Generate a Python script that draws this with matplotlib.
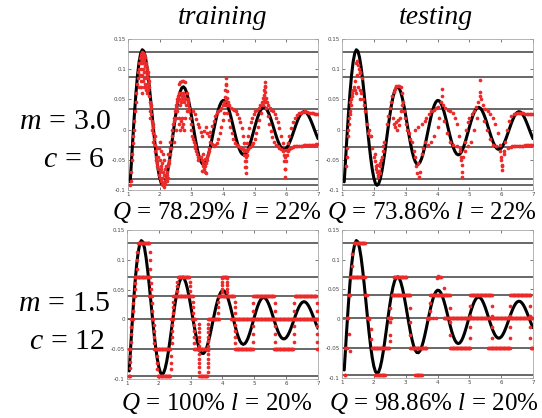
import numpy as np
import matplotlib
matplotlib.use("Agg")
import matplotlib.pyplot as plt

plt.rcParams['mathtext.fontset'] = 'custom'
plt.rcParams['mathtext.rm'] = 'Liberation Serif'
plt.rcParams['mathtext.it'] = 'Liberation Serif:italic'
plt.rcParams['mathtext.bf'] = 'Liberation Serif:bold'

# ---------------------------------------------------------------- text
col_titles = ['training', 'testing']
row_m = [r'$m\,=\,3.0$', r'$m\,=\,1.5$']
row_c = [r'$c\,=\,\mathit{6}$', r'$c\,=\,\mathit{12}$']
q_labels = [[r'$Q\,=\,78.29\%\ l\,=\,22\%$', r'$Q\,=\,73.86\%\ l\,=\,22\%$'],
            [r'$Q\,=\,100\%\ l\,=\,20\%$', r'$Q\,=\,98.86\%\ l\,=\,20\%$']]

x_ticks = [1, 2, 3, 4, 5, 6, 7]
x_tick_labels = ['1', '2', '3', '4', '5', '6', '7']
y_ticks = [-0.1, -0.05, 0, 0.05, 0.1, 0.15]
y_tick_labels = ['-0.1', '-0.05', '0', '0.05', '0.1', '0.15']

# ---------------------------------------------------------------- reference signal
signal_x0 = 1.07
signal_y0 = -0.0865
signal_dx = 0.05          # samples from x = 1.10 on
signal_start = 1.10
signal_y = [
    -0.0602, -0.0168, 0.0240, 0.0602, 0.0900, 0.1123, 0.1264, 0.1322, 0.1298, 0.1198,
    0.1035, 0.0820, 0.0569, 0.0300, 0.0027, -0.0233, -0.0465, -0.0657, -0.0801, -0.0891,
    -0.0923, -0.0899, -0.0822, -0.0700, -0.0541, -0.0357, -0.0160, 0.0039, 0.0228, 0.0396,
    0.0534, 0.0634, 0.0693, 0.0709, 0.0681, 0.0614, 0.0512, 0.0383, 0.0236, 0.0079,
    -0.0078, -0.0225, -0.0353, -0.0457, -0.0530, -0.0569, -0.0573, -0.0542, -0.0480, -0.0391,
    -0.0280, -0.0156, -0.0026, 0.0102, 0.0221, 0.0324, 0.0404, 0.0458, 0.0483, 0.0478,
    0.0445, 0.0386, 0.0305, 0.0208, 0.0100, -0.0011, -0.0119, -0.0218, -0.0301, -0.0364,
    -0.0404, -0.0419, -0.0408, -0.0373, -0.0316, -0.0241, -0.0153, -0.0058, 0.0039, 0.0131,
    0.0214, 0.0282, 0.0332, 0.0361, 0.0368, 0.0352, 0.0316, 0.0260, 0.0191, 0.0111,
    0.0026, -0.0060, -0.0140, -0.0210, -0.0267, -0.0306, -0.0326, -0.0326, -0.0307, -0.0269,
    -0.0216, -0.0150, -0.0077, 0.0000, 0.0076, 0.0146, 0.0206, 0.0253, 0.0284, 0.0297,
    0.0292, 0.0269, 0.0231, 0.0179, 0.0117, 0.0049, -0.0021, -0.0089, -0.0150,
]

# ---------------------------------------------------------------- quantisation levels
levels_m30 = [0.129, 0.087, 0.034, -0.029, -0.081, -0.092]
levels_m15 = [0.128, 0.071, 0.040, 0.001, -0.050, -0.095]

# ---------------------------------------------------------------- m = 3.0 predictions
train_m30_cloud = [
    (1.07, -0.092), (1.08, -0.085), (1.10, -0.070), (1.12, -0.050), (1.13, -0.040), (1.15, -0.022),
    (1.16, -0.010), (1.18, 0.000), (1.20, 0.015), (1.22, 0.030), (1.24, 0.045), (1.26, 0.060),
    (1.28, 0.075), (1.30, 0.085), (1.32, 0.095), (1.34, 0.100), (1.36, 0.110), (1.38, 0.118),
    (1.40, 0.122), (1.42, 0.125), (1.45, 0.128), (1.48, 0.127), (1.50, 0.125), (1.52, 0.122),
    (1.55, 0.120), (1.58, 0.110),
    (1.38, 0.090), (1.40, 0.100), (1.42, 0.110), (1.44, 0.090), (1.45, 0.115), (1.46, 0.100),
    (1.47, 0.080), (1.48, 0.110), (1.50, 0.095), (1.50, 0.070), (1.52, 0.085), (1.53, 0.105),
    (1.54, 0.075), (1.55, 0.095), (1.56, 0.065), (1.57, 0.085), (1.58, 0.070), (1.60, 0.090),
    (1.62, 0.075), (1.60, 0.060), (1.64, 0.065), (1.42, 0.070), (1.44, 0.060), (1.36, 0.070),
    (1.40, 0.080), (1.46, 0.120), (1.52, 0.115), (1.56, 0.105), (1.62, 0.095), (1.66, 0.080),
    (1.60, 0.100), (1.62, 0.085), (1.65, 0.070), (1.67, 0.055), (1.70, 0.045), (1.72, 0.035),
    (1.74, 0.025), (1.76, 0.015), (1.78, 0.005), (1.80, -0.005), (1.82, -0.015), (1.84, -0.025),
    (1.86, -0.035), (1.88, -0.045), (1.90, -0.055), (1.68, 0.030), (1.70, 0.020), (1.73, 0.040),
    (1.75, 0.000), (1.78, -0.020), (1.80, 0.010), (1.85, -0.010), (1.87, -0.050), (1.90, -0.030),
    (1.92, -0.060), (1.94, -0.045),
    (1.95, -0.065), (1.97, -0.075), (2.00, -0.080), (2.02, -0.070), (2.04, -0.085), (2.06, -0.090),
    (2.08, -0.080), (2.10, -0.092), (2.12, -0.088), (2.14, -0.095), (2.16, -0.090), (2.18, -0.085),
    (2.20, -0.080), (2.22, -0.075), (2.24, -0.070), (2.26, -0.060), (2.28, -0.050), (2.30, -0.040),
    (2.32, -0.030), (2.34, -0.020), (2.00, -0.050), (2.03, -0.060), (2.05, -0.065), (2.08, -0.055),
    (2.12, -0.070), (2.15, -0.075), (2.18, -0.065), (2.20, -0.060), (2.22, -0.085), (2.25, -0.080),
    (2.10, -0.040), (2.05, -0.035), (1.98, -0.030), (2.02, -0.020), (2.15, -0.050), (2.26, -0.040),
    (2.30, -0.055), (2.34, -0.040), (2.37, -0.030),
    (2.38, -0.010), (2.40, 0.000), (2.42, 0.010), (2.44, 0.015), (2.46, 0.020), (2.48, 0.030),
    (2.50, 0.035), (2.52, 0.040), (2.54, 0.045), (2.56, 0.050), (2.58, 0.055), (2.60, 0.060),
    (2.45, -0.020), (2.50, 0.000), (2.52, 0.020), (2.55, 0.030),
    (2.60, 0.075), (2.65, 0.078), (2.70, 0.080), (2.75, 0.080), (2.80, 0.078), (2.62, 0.050),
    (2.64, 0.040), (2.66, 0.060), (2.68, 0.045), (2.70, 0.055), (2.72, 0.050), (2.74, 0.060),
    (2.76, 0.045), (2.78, 0.055), (2.80, 0.050), (2.82, 0.040), (2.84, 0.050), (2.60, 0.020),
    (2.62, 0.010), (2.65, 0.000), (2.68, 0.015), (2.70, 0.005), (2.72, 0.020), (2.75, 0.010),
    (2.78, 0.000), (2.80, 0.020), (2.85, 0.030), (2.90, 0.040),
    (2.86, 0.060), (2.88, 0.050), (2.90, 0.045), (2.92, 0.035), (2.94, 0.030), (2.96, 0.020),
    (2.98, 0.010), (3.00, 0.000), (3.02, -0.010), (3.05, -0.015), (3.08, -0.020), (3.10, -0.025),
    (3.12, -0.030), (3.15, -0.035), (3.18, -0.040), (3.20, -0.045), (3.22, -0.050),
    (3.30, -0.045), (3.33, -0.050), (3.36, -0.055), (3.38, -0.060), (3.40, -0.065), (3.42, -0.070),
    (3.44, -0.060), (3.46, -0.055), (3.48, -0.050), (3.50, -0.045), (3.35, -0.068), (3.45, -0.072),
    (3.52, -0.040), (3.55, -0.035), (3.38, -0.040), (3.42, -0.048), (3.05, 0.030), (3.10, 0.025),
    (3.15, 0.018), (3.20, 0.010),
]
train_m30_upper = [
    (3.25, 0.005), (3.30, -0.004), (3.35, -0.010), (3.40, -0.002), (3.45, 0.004), (3.50, -0.006),
    (3.55, -0.010), (3.60, -0.004), (3.65, 0.006), (3.70, 0.015), (3.75, 0.022), (3.80, 0.027),
    (3.85, 0.030), (3.90, 0.033), (3.95, 0.036), (4.00, 0.040), (4.03, 0.046), (4.05, 0.054),
    (4.07, 0.066), (4.08, 0.076), (4.09, 0.085), (4.10, 0.074), (4.11, 0.064), (4.13, 0.053),
    (4.16, 0.045), (4.20, 0.040), (4.25, 0.036), (4.30, 0.034), (4.35, 0.032), (4.40, 0.030),
    (4.45, 0.026), (4.50, 0.020), (4.55, 0.012), (4.60, 0.002), (4.64, -0.010), (4.67, -0.022),
    (4.69, -0.034), (4.71, -0.045), (4.73, -0.034), (4.75, -0.022), (4.78, -0.010), (4.82, 0.002),
    (4.87, 0.012), (4.92, 0.020), (4.97, 0.026), (5.02, 0.030), (5.07, 0.033), (5.12, 0.036),
    (5.17, 0.040), (5.22, 0.045), (5.26, 0.052), (5.28, 0.058), (5.30, 0.066), (5.31, 0.072),
    (5.32, 0.079), (5.33, 0.070), (5.34, 0.062), (5.36, 0.053), (5.39, 0.046), (5.43, 0.040),
    (5.48, 0.036), (5.53, 0.033), (5.58, 0.030), (5.63, 0.026), (5.68, 0.020), (5.73, 0.012),
    (5.78, 0.002), (5.83, -0.010), (5.88, -0.022), (5.92, -0.034), (5.96, -0.046), (6.00, -0.034),
    (6.04, -0.022), (6.09, -0.010), (6.14, 0.002), (6.20, 0.012), (6.26, 0.019), (6.32, 0.024),
    (6.40, 0.027), (6.45, 0.028), (6.50, 0.029), (6.55, 0.029), (6.60, 0.030), (6.65, 0.029),
    (6.70, 0.028), (6.75, 0.028), (6.80, 0.027), (6.85, 0.027), (6.90, 0.026), (6.95, 0.026),
    (7.00, 0.026),
]
train_m30_lower = [
    (3.55, -0.030), (3.60, -0.020), (3.65, -0.024), (3.70, -0.027), (3.75, -0.026), (3.80, -0.022),
    (3.85, -0.015), (3.90, -0.006), (3.95, 0.004), (4.00, 0.016), (4.04, 0.028), (4.07, 0.040),
    (4.09, 0.048), (4.11, 0.040), (4.14, 0.028), (4.18, 0.016), (4.23, 0.004), (4.28, -0.006),
    (4.33, -0.015), (4.38, -0.022), (4.43, -0.026), (4.48, -0.028), (4.53, -0.029), (4.58, -0.030),
    (4.62, -0.032), (4.65, -0.036), (4.67, -0.042), (4.69, -0.052), (4.70, -0.062), (4.71, -0.072),
    (4.72, -0.062), (4.73, -0.052), (4.75, -0.042), (4.77, -0.036), (4.80, -0.032), (4.85, -0.029),
    (4.90, -0.026), (4.95, -0.022), (5.00, -0.015), (5.05, -0.006), (5.10, 0.004), (5.15, 0.016),
    (5.20, 0.028), (5.25, 0.040), (5.30, 0.048), (5.32, 0.050), (5.34, 0.045), (5.37, 0.035),
    (5.41, 0.022), (5.46, 0.010), (5.51, -0.002), (5.56, -0.012), (5.61, -0.020), (5.66, -0.025),
    (5.72, -0.028), (5.78, -0.030), (5.84, -0.032), (5.88, -0.036), (5.91, -0.042), (5.93, -0.052),
    (5.95, -0.066), (5.96, -0.078), (5.97, -0.066), (5.99, -0.052), (6.01, -0.042), (6.04, -0.036),
    (6.08, -0.032), (6.14, -0.030), (6.20, -0.029), (6.25, -0.028), (6.30, -0.028), (6.35, -0.027),
    (6.40, -0.027), (6.45, -0.027), (6.50, -0.027), (6.55, -0.026), (6.60, -0.026), (6.65, -0.026),
    (6.70, -0.026), (6.75, -0.025), (6.80, -0.025), (6.85, -0.025), (6.90, -0.025), (6.95, -0.024),
    (7.00, -0.024),
]

test_m30_cloud = [
    (1.12, -0.060), (1.15, -0.045), (1.17, -0.030), (1.19, -0.010), (1.20, 0.000), (1.22, 0.010),
    (1.23, 0.020), (1.25, 0.030), (1.27, 0.040), (1.28, 0.050), (1.30, 0.055), (1.32, 0.060),
    (1.33, 0.065), (1.24, 0.045), (1.26, 0.025),
    (1.45, 0.110), (1.48, 0.113), (1.50, 0.107), (1.52, 0.100), (1.55, 0.093), (1.47, 0.090),
    (1.50, 0.070), (1.55, 0.066), (1.44, 0.060), (1.42, 0.065), (1.60, 0.060), (1.57, 0.050),
    (1.40, 0.080), (1.37, 0.070), (1.62, 0.085), (1.58, 0.095),
    (1.65, 0.050), (1.68, 0.040), (1.72, 0.030), (1.78, 0.010), (1.82, -0.005), (1.87, -0.010),
    (1.90, -0.010), (1.85, 0.000),
    (1.95, -0.030), (2.00, -0.045), (2.03, -0.052), (2.06, -0.060), (2.08, -0.065), (2.10, -0.070),
    (2.12, -0.075), (2.15, -0.068), (2.18, -0.060), (2.20, -0.055), (2.22, -0.050), (2.25, -0.045),
    (2.28, -0.035), (2.30, -0.028), (2.33, -0.020), (2.10, -0.058), (2.14, -0.078), (2.18, -0.072),
    (2.05, -0.040),
    (2.40, 0.010), (2.45, 0.022), (2.50, 0.035), (2.55, 0.045), (2.58, 0.055), (2.62, 0.062),
    (2.65, 0.068), (2.70, 0.072), (2.75, 0.073), (2.80, 0.072), (2.85, 0.070), (2.90, 0.060),
    (2.60, 0.020), (2.62, 0.010), (2.65, 0.005), (2.70, 0.012), (2.72, 0.000), (2.75, 0.016),
    (2.78, 0.008), (2.82, 0.020), (2.85, 0.030), (2.88, 0.040), (2.92, 0.045), (2.95, 0.030),
    (2.98, 0.020), (3.00, 0.010), (3.05, 0.000), (3.10, -0.005), (3.15, -0.015), (3.20, -0.020),
    (3.25, -0.035), (3.30, -0.045), (3.35, -0.072), (3.42, -0.078), (3.45, -0.070), (3.40, -0.055),
    (3.50, -0.040), (3.32, -0.060), (3.55, -0.030),
]
test_m30_upper = [
    (3.30, 0.000), (3.40, 0.005), (3.50, 0.010), (3.60, 0.015), (3.65, 0.020), (3.72, 0.025),
    (3.80, 0.030), (3.88, 0.033), (3.95, 0.035), (4.02, 0.038), (4.10, 0.045), (4.13, 0.055),
    (4.14, 0.068), (4.18, 0.040), (4.25, 0.035), (4.32, 0.033), (4.40, 0.030), (4.48, 0.028),
    (4.55, 0.020), (4.62, 0.010), (4.68, -0.010), (4.72, -0.030), (4.75, -0.050), (4.77, -0.070),
    (4.78, -0.078), (4.80, -0.045), (4.85, -0.020), (4.90, 0.000), (4.95, 0.012), (5.00, 0.020),
    (5.08, 0.026), (5.15, 0.030), (5.22, 0.038), (5.28, 0.045), (5.32, 0.055), (5.34, 0.062),
    (5.35, 0.082), (5.37, 0.050), (5.42, 0.040), (5.50, 0.034), (5.58, 0.030), (5.66, 0.025),
    (5.74, 0.020), (5.82, 0.010), (5.90, -0.005), (5.96, -0.025), (6.00, -0.045), (6.03, -0.060),
    (6.04, -0.067), (6.08, -0.040), (6.12, -0.020), (6.18, 0.000), (6.25, 0.015), (6.32, 0.022),
    (6.40, 0.025), (6.45, 0.026), (6.50, 0.027), (6.55, 0.027), (6.60, 0.027), (6.65, 0.027),
    (6.70, 0.027), (6.75, 0.026), (6.80, 0.026), (6.85, 0.026), (6.90, 0.026), (6.95, 0.026),
    (7.00, 0.026),
]
test_m30_lower = [
    (3.60, -0.020), (3.70, -0.025), (3.80, -0.020), (3.90, -0.010), (4.00, 0.005), (4.05, 0.020),
    (4.20, 0.015), (4.30, -0.005), (4.40, -0.020), (4.50, -0.025), (4.60, -0.028), (4.70, -0.035),
    (4.74, -0.045), (4.76, -0.058), (4.85, -0.035), (4.95, -0.028), (5.05, -0.020), (5.15, 0.000),
    (5.25, 0.020), (5.45, 0.015), (5.55, 0.000), (5.65, -0.015), (5.75, -0.025), (5.85, -0.028),
    (5.95, -0.035), (6.00, -0.050), (6.02, -0.058), (6.10, -0.035), (6.20, -0.030), (6.30, -0.029),
    (6.35, -0.028), (6.40, -0.028), (6.45, -0.028), (6.50, -0.028), (6.55, -0.027), (6.60, -0.027),
    (6.65, -0.027), (6.70, -0.027), (6.75, -0.026), (6.80, -0.026), (6.85, -0.026), (6.90, -0.026),
    (6.95, -0.025), (7.00, -0.025),
]

# ---------------------------------------------------------------- m = 1.5 predictions
# runs held on one level: (x start, x end, level index)
train_m15_runs = [
    (1.05, 1.10, 5), (1.06, 1.13, 4), (1.13, 1.19, 3), (1.19, 1.25, 2), (1.24, 1.72, 1),
    (1.35, 1.70, 0), (1.70, 1.78, 2), (1.77, 1.84, 3), (1.84, 2.38, 4), (1.96, 2.36, 5),
    (2.38, 2.46, 3), (2.46, 3.08, 2), (2.60, 2.96, 1), (3.05, 3.14, 3), (3.12, 3.55, 4),
    (3.27, 3.52, 5), (3.55, 3.88, 3), (3.86, 4.38, 2), (3.99, 4.14, 1), (4.28, 4.97, 3),
    (4.40, 4.97, 4), (4.97, 5.64, 2), (4.97, 7.00, 3), (5.62, 6.24, 4), (6.27, 6.96, 2),
    (6.96, 7.00, 4),
]
# jumps between levels: (x, y from, y to, dots)
train_m15_steps = [
    (1.10, -0.093, -0.050, 3), (1.13, -0.050, 0.000, 3), (1.20, 0.000, 0.040, 2),
    (1.25, 0.040, 0.071, 2), (1.33, 0.071, 0.128, 3), (1.71, 0.128, 0.071, 3),
    (1.74, 0.071, 0.040, 2), (1.80, 0.040, 0.000, 2), (1.84, 0.000, -0.050, 4),
    (1.95, -0.050, -0.095, 3), (2.37, -0.095, -0.050, 3), (2.40, -0.050, 0.000, 4),
    (2.46, 0.000, 0.040, 3), (2.58, 0.040, 0.071, 3), (2.97, 0.071, 0.040, 3),
    (3.08, 0.040, 0.000, 3), (3.12, 0.000, -0.050, 4), (3.25, 0.000, -0.095, 12),
    (3.53, -0.095, 0.000, 12), (3.86, 0.000, 0.040, 3), (3.98, 0.040, 0.075, 5),
    (4.15, 0.075, 0.040, 5), (4.38, 0.040, 0.000, 3), (4.40, 0.000, -0.050, 4),
    (4.97, -0.050, 0.040, 6), (5.64, 0.040, -0.050, 6), (6.25, -0.050, 0.040, 6),
    (6.96, 0.040, -0.050, 6),
]
train_m15_extra = []

test_m15_runs = [
    (1.08, 1.12, 5), (1.10, 1.16, 4), (1.15, 1.22, 3), (1.21, 1.28, 2), (1.26, 1.73, 1),
    (1.37, 1.73, 0), (1.73, 1.80, 2), (1.80, 1.87, 3), (1.94, 2.47, 4), (2.05, 2.36, 5),
    (2.45, 2.55, 3), (2.57, 3.15, 2), (2.62, 3.04, 1), (3.15, 3.67, 4), (3.30, 3.52, 5),
    (3.67, 3.78, 3), (3.78, 4.40, 2), (4.02, 4.10, 1), (4.20, 5.03, 3), (4.40, 5.03, 4),
    (5.03, 5.71, 2), (5.03, 7.00, 3), (5.60, 6.28, 4), (6.29, 6.92, 2), (6.93, 7.00, 4),
]
test_m15_steps = [
    (1.30, 0.071, 0.128, 2), (1.90, -0.050, 0.000, 2), (2.52, -0.050, 0.040, 3),
    (3.15, 0.040, -0.050, 3), (3.75, 0.000, 0.040, 2), (4.40, 0.040, -0.050, 3),
    (5.03, -0.050, 0.040, 4), (5.70, 0.040, -0.050, 4), (6.28, -0.050, 0.040, 4),
    (6.92, 0.040, -0.050, 4),
]
test_m15_extra = [
    (1.26, -0.054), (1.22, -0.026), (1.84, 0.000), (2.52, -0.037), (3.98, 0.069),
    (4.03, 0.073), (4.19, 0.052), (3.70, 0.000), (3.85, 0.002), (3.95, 0.001),
]

# ---------------------------------------------------------------- styling
RED = '#ec2a2a'
LINE_GREY = '#5c5c5c'
RUN_STEP = 0.025

panels = [
    [dict(levels=levels_m30, groups=[train_m30_cloud, train_m30_upper, train_m30_lower]),
     dict(levels=levels_m30, groups=[test_m30_cloud, test_m30_upper, test_m30_lower])],
    [dict(levels=levels_m15, runs=train_m15_runs, steps=train_m15_steps, extra=train_m15_extra),
     dict(levels=levels_m15, runs=test_m15_runs, steps=test_m15_steps, extra=test_m15_extra)],
]

# axes rectangles in figure fractions (left, bottom, width, height)
rects = [[(0.2362, 0.5455, 0.3506, 0.3612), (0.6310, 0.5455, 0.3524, 0.3612)],
         [(0.2343, 0.0933, 0.3524, 0.3565), (0.6310, 0.0957, 0.3524, 0.3541)]]

fig = plt.figure(figsize=(5.42, 4.18), dpi=100)
fig.patch.set_facecolor('white')

sig_x = np.concatenate([[signal_x0], signal_start + signal_dx * np.arange(len(signal_y))])
sig_y = np.concatenate([[signal_y0], signal_y])


def red_points(spec):
    xs, ys = [], []
    for grp in spec.get('groups', []):
        arr = np.array(grp)
        xs.append(arr[:, 0]); ys.append(arr[:, 1])
    lv = spec['levels']
    for x0, x1, li in spec.get('runs', []):
        rx = np.arange(x0, x1 + 1e-9, RUN_STEP)
        xs.append(rx); ys.append(np.full(rx.shape, lv[li]))
    for x, y0, y1, n in spec.get('steps', []):
        sy = np.linspace(y0, y1, n + 2)[1:-1]
        xs.append(np.full(sy.shape, x)); ys.append(sy)
    if spec.get('extra'):
        arr = np.array(spec['extra'])
        xs.append(arr[:, 0]); ys.append(arr[:, 1])
    return np.concatenate(xs), np.concatenate(ys)


for r in range(2):
    for c in range(2):
        spec = panels[r][c]
        ax = fig.add_axes(rects[r][c])
        for lv in spec['levels']:
            ax.axhline(lv, color=LINE_GREY, lw=1.3, zorder=1)
        ax.plot(sig_x, sig_y, color='black', lw=2.2, zorder=2, solid_capstyle='round')
        px, py = red_points(spec)
        ax.scatter(px, py, s=7, color=RED, linewidths=0, zorder=3)
        ax.set_xlim(1, 7)
        ax.set_ylim(-0.1, 0.15)
        ax.set_xticks(x_ticks)
        ax.set_xticklabels(x_tick_labels)
        ax.set_yticks(y_ticks)
        ax.set_yticklabels(y_tick_labels)
        ax.tick_params(direction='in', length=2.5, width=0.5, labelsize=4,
                       colors='#444444', top=True, right=True, pad=1.5)
        for sp in ax.spines.values():
            sp.set_color('#a8a8a8')
            sp.set_linewidth(0.6)

# column headings
title_kw = dict(family='Liberation Serif', style='italic', fontsize=20, ha='center', va='center')
fig.text(0.410, 0.958, col_titles[0], **title_kw)
fig.text(0.805, 0.958, col_titles[1], **title_kw)

# row parameters
row_kw = dict(fontsize=21.5, ha='center', va='center')
fig.text(0.120, 0.712, row_m[0], **row_kw)
fig.text(0.136, 0.622, row_c[0], **row_kw)
fig.text(0.119, 0.277, row_m[1], **row_kw)
fig.text(0.124, 0.186, row_c[1], **row_kw)

# quality under each panel
q_kw = dict(fontsize=18, ha='center', va='center')
fig.text(0.400, 0.492, q_labels[0][0], **q_kw)
fig.text(0.797, 0.492, q_labels[0][1], **q_kw)
fig.text(0.400, 0.034, q_labels[1][0], **q_kw)
fig.text(0.800, 0.034, q_labels[1][1], **q_kw)

fig.savefig('out.png', dpi=100, facecolor='white')
